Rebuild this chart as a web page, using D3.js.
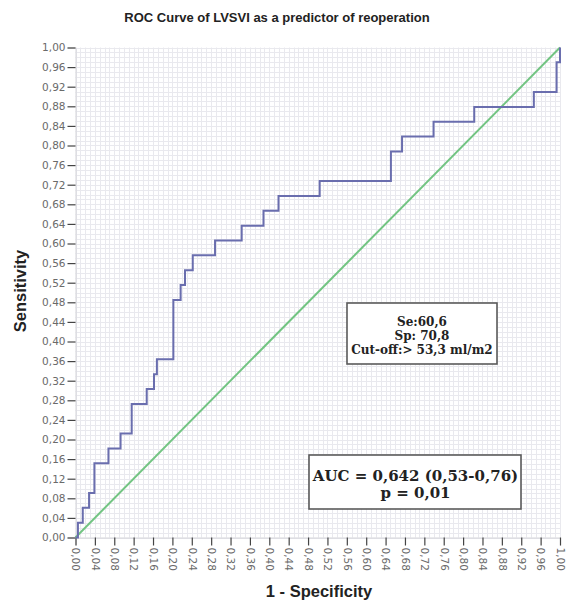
<!DOCTYPE html>
<html>
<head>
<meta charset="utf-8">
<script src="https://cdn.jsdelivr.net/npm/d3@7"></script>
<style>
  html, body { margin: 0; padding: 0; background: #fff; }
  svg { display: block; }
</style>
</head>
<body>
<script>
// ROC curve corner points (1 - specificity, sensitivity), drawn as steps
const fpr = [0, 0.005, 0.015, 0.028, 0.039, 0.068, 0.093, 0.116, 0.147, 0.162, 0.168, 0.202, 0.217, 0.226, 0.242, 0.288, 0.343, 0.388, 0.419, 0.504, 0.651, 0.674, 0.739, 0.823, 0.946, 0.993, 1];
const tpr = [0, 0.0303, 0.0606, 0.0909, 0.1515, 0.1818, 0.2121, 0.2727, 0.3030, 0.3333, 0.3636, 0.4848, 0.5152, 0.5455, 0.5758, 0.6061, 0.6364, 0.6667, 0.6970, 0.7273, 0.7879, 0.8182, 0.8485, 0.8788, 0.9091, 0.9697, 1];

// Chance diagonal
const refX = [0, 1];
const refY = [0, 1];

// Axis tick values (0.04 steps) and minor grid values (0.01 steps)
const tickValues = [0, 0.04, 0.08, 0.12, 0.16, 0.20, 0.24, 0.28, 0.32, 0.36, 0.40, 0.44, 0.48, 0.52, 0.56, 0.60, 0.64, 0.68, 0.72, 0.76, 0.80, 0.84, 0.88, 0.92, 0.96, 1.00];
const gridValues = d3.range(0, 101).map(i => i / 100);

const titleText = "ROC Curve of LVSVI as a predictor of reoperation";
const xLabel = "1 - Specificity";
const yLabel = "Sensitivity";
const cutoffLines = ["Se:60,6", "Sp: 70,8", "Cut-off:> 53,3 ml/m2"];
const aucLines = ["AUC = 0,642 (0,53-0,76)", "p = 0,01"];

const W = 573, H = 605;
const svg = d3.select("body").append("svg").attr("width", W).attr("height", H);

const x = d3.scaleLinear().domain([0, 1]).range([75.5, 560]);
const y = d3.scaleLinear().domain([0, 1]).range([537.5, 47.5]);

const fmt = v => d3.format(".2f")(v).replace(".", ",");

// Fine grid
const grid = svg.append("g").attr("stroke", "#e9e9ee").attr("stroke-width", 1);
grid.selectAll("line.v").data(gridValues).join("line")
  .attr("x1", d => Math.round(x(d)) + 0.5).attr("x2", d => Math.round(x(d)) + 0.5)
  .attr("y1", y(1)).attr("y2", y(0));
grid.selectAll("line.h").data(gridValues).join("line")
  .attr("y1", d => Math.round(y(d)) + 0.5).attr("y2", d => Math.round(y(d)) + 0.5)
  .attr("x1", x(0)).attr("x2", x(1));

// Axes
const yAxis = svg.append("g").attr("transform", `translate(${x(0)},0)`)
  .call(d3.axisLeft(y).tickValues(tickValues).tickFormat(fmt).tickSize(8).tickPadding(2));
const xAxis = svg.append("g").attr("transform", `translate(0,${y(0)})`)
  .call(d3.axisBottom(x).tickValues(tickValues).tickFormat(fmt).tickSize(8).tickPadding(2));

[yAxis, xAxis].forEach(a => {
  a.select(".domain").attr("stroke", "#d4d4d8");
  a.selectAll(".tick line").attr("stroke", "#444").attr("stroke-width", 1.2);
  a.selectAll(".tick text")
    .attr("fill", "#6a6a6a")
    .style("font-family", "'DejaVu Sans', sans-serif")
    .style("font-size", "10.5px");
});
xAxis.selectAll(".tick text")
  .attr("transform", "rotate(90)")
  .attr("text-anchor", "start")
  .attr("dy", "0.35em")
  .attr("x", 10)
  .attr("y", 0);

// Diagonal reference line
svg.append("path")
  .datum(refX.map((d, i) => [d, refY[i]]))
  .attr("fill", "none")
  .attr("stroke", "#72c482")
  .attr("stroke-width", 2)
  .attr("d", d3.line().x(d => x(d[0])).y(d => y(d[1])));

// ROC step curve
svg.append("path")
  .datum(fpr.map((d, i) => [d, tpr[i]]))
  .attr("fill", "none")
  .attr("stroke", "#6a6eae")
  .attr("stroke-width", 2)
  .attr("d", d3.line().curve(d3.curveStepAfter).x(d => x(d[0])).y(d => y(d[1])));

// Title and axis labels
svg.append("text")
  .attr("x", 277).attr("y", 22)
  .attr("text-anchor", "middle")
  .style("font-family", "'Liberation Sans', Arial, sans-serif")
  .style("font-weight", "bold").style("font-size", "13px")
  .attr("fill", "#222")
  .text(titleText);

svg.append("text")
  .attr("x", 319).attr("y", 597)
  .attr("text-anchor", "middle")
  .style("font-family", "'Liberation Sans', Arial, sans-serif")
  .style("font-weight", "bold").style("font-size", "16.5px")
  .attr("fill", "#222")
  .text(xLabel);

svg.append("text")
  .attr("transform", "translate(26,291) rotate(-90)")
  .attr("text-anchor", "middle")
  .style("font-family", "'Liberation Sans', Arial, sans-serif")
  .style("font-weight", "bold").style("font-size", "16.5px")
  .attr("fill", "#222")
  .text(yLabel);

// Annotation boxes
function box(bx, by, bw, bh, lines, cx, baselines, size) {
  const g = svg.append("g");
  g.append("rect")
    .attr("x", bx).attr("y", by).attr("width", bw).attr("height", bh)
    .attr("fill", "#fff").attr("stroke", "#5a5a5a").attr("stroke-width", 1.6);
  g.selectAll("text").data(lines).join("text")
    .attr("x", cx).attr("y", (d, i) => baselines[i])
    .attr("text-anchor", "middle")
    .style("font-family", "'DejaVu Serif', serif")
    .style("font-weight", "bold").style("font-size", size + "px")
    .attr("fill", "#222")
    .text(d => d);
}
box(347, 303, 150, 61, cutoffLines, 422, [326, 340, 354], 12);
box(309, 455, 212, 54, aucLines, 415.5, [480.5, 498], 15);
</script>
</body>
</html>
